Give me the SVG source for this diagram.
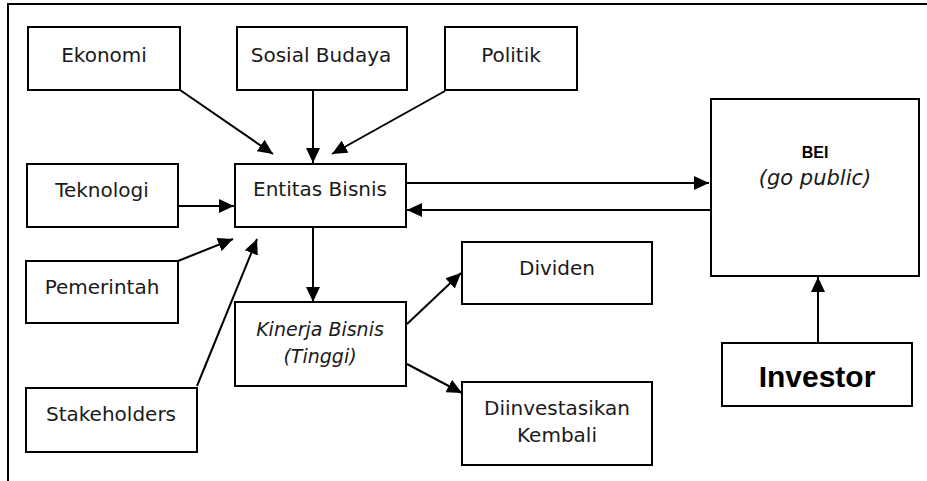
<svg xmlns="http://www.w3.org/2000/svg" width="927" height="481" viewBox="0 0 927 481">
<style>
.box{fill:#fff;stroke:#000;stroke-width:2}
.t{font-family:"DejaVu Sans",sans-serif;font-size:20px;fill:#1a1a1a;text-anchor:middle}
.i{font-style:italic}
.c{stroke:#000;stroke-width:2;fill:none;marker-end:url(#ah)}
</style>
<defs>
<marker id="ah" markerUnits="userSpaceOnUse" markerWidth="16" markerHeight="14" refX="15" refY="7" orient="auto">
<path d="M0,0 L15,7 L0,14 z" fill="#000"/>
</marker>
</defs>
<rect width="927" height="481" fill="#fff"/>
<path d="M8,481 V4 H927" stroke="#000" stroke-width="2" fill="none"/>
<g id="ekonomi"><rect class="box" x="28" y="27" width="152" height="63"/><text class="t" x="104" y="62">Ekonomi</text></g>
<g id="sosial"><rect class="box" x="237" y="27" width="170" height="63"/><text class="t" x="321" y="62">Sosial Budaya</text></g>
<g id="politik"><rect class="box" x="445" y="27" width="132" height="63"/><text class="t" x="511" y="62">Politik</text></g>
<g id="teknologi"><rect class="box" x="27" y="164" width="151" height="63"/><text class="t" x="102" y="197">Teknologi</text></g>
<g id="entitas"><rect class="box" x="235" y="164" width="171" height="63"/><text class="t" x="320" y="196">Entitas Bisnis</text></g>
<g id="bei"><rect class="box" x="711" y="99" width="208" height="177"/><text x="815" y="158" style="font-family:'Liberation Sans',sans-serif;font-weight:bold;font-size:16px;text-anchor:middle">BEI</text><text class="t i" x="815" y="185" style="font-size:21px">(go public)</text></g>
<g id="pemerintah"><rect class="box" x="26" y="261" width="152" height="62"/><text class="t" x="102" y="294">Pemerintah</text></g>
<g id="stakeholders"><rect class="box" x="26" y="388" width="171" height="64"/><text class="t" x="111" y="421">Stakeholders</text></g>
<g id="kinerja"><rect class="box" x="235" y="302" width="171" height="84"/><text class="t i" x="320" y="336" style="font-size:19px">Kinerja Bisnis</text><text class="t i" x="320" y="363" style="font-size:19px">(Tinggi)</text></g>
<g id="dividen"><rect class="box" x="462" y="242" width="190" height="62"/><text class="t" x="557" y="275">Dividen</text></g>
<g id="diinvestasikan"><rect class="box" x="462" y="382" width="190" height="83"/><text class="t" x="557" y="415">Diinvestasikan</text><text class="t" x="557" y="442">Kembali</text></g>
<g id="investor"><rect class="box" x="722" y="343" width="190" height="63"/><text x="817" y="387" style="font-family:'Liberation Sans',sans-serif;font-weight:bold;font-size:30px;text-anchor:middle">Investor</text></g>
<g id="connectors">
<line class="c" x1="180" y1="90" x2="273" y2="154"/>
<line class="c" x1="313" y1="90" x2="313" y2="163"/>
<line class="c" x1="445" y1="91" x2="332" y2="154"/>
<line class="c" x1="178" y1="206" x2="234" y2="206"/>
<line class="c" x1="406" y1="183" x2="709" y2="183"/>
<line class="c" x1="711" y1="210" x2="407" y2="210"/>
<line class="c" x1="313" y1="227" x2="313" y2="302"/>
<line class="c" x1="178" y1="261" x2="233" y2="239"/>
<line class="c" x1="197" y1="386" x2="257" y2="239"/>
<line class="c" x1="407" y1="324" x2="461" y2="273"/>
<line class="c" x1="407" y1="364" x2="462" y2="393"/>
<line class="c" x1="818" y1="343" x2="818" y2="277"/>
</g>
</svg>
